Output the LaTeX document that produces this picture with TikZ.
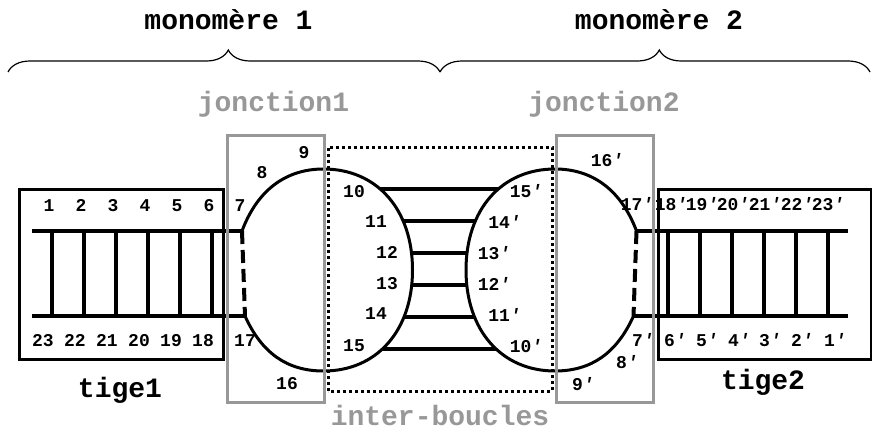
\documentclass[tikz,border=0pt]{standalone}
\usepackage{fontspec}
\setmainfont{Liberation Mono}
\usetikzlibrary{decorations.pathreplacing}
\definecolor{gris}{RGB}{152,152,152}
\newcommand{\primo}{{\itshape ′}}

\begin{document}
\begin{tikzpicture}[x=1pt, y=1pt,
    every node/.style={font=\fontsize{18}{18}\selectfont\bfseries, inner sep=0pt, text height=11pt, text depth=0pt},
    titre/.style={font=\fontsize{28}{28}\selectfont\bfseries, anchor=base},
    brin/.style={line width=4pt},
    cadre/.style={line width=3pt},
    jonction/.style={draw=gris, line width=3pt},
    boucle/.style={draw, fill=white, line width=3pt},
    accolade/.style={decorate, decoration={brace, amplitude=22pt, aspect=0.51}, line width=1.2pt}]

    \useasboundingbox (0,0) rectangle (872,432);

    % accolades des monomeres
    \coordinate (a0) at (8,360);
    \coordinate (a1) at (440,360);
    \coordinate (a2) at (870,360);
    \draw[accolade] (a0) -- (a1);
    \draw[accolade] (a1) -- (a2);
    \node[titre] (mono1) at (228.5,402) {monomère 1};
    \node[titre] (mono2) at (659,402) {monomère 2};

    % liaisons inter-boucles
    \draw[brin] (323.5,243) -- (555,243);
    \draw[brin] (323.5,211) -- (555,211);
    \draw[brin] (323.5,179) -- (555,179);
    \draw[brin] (323.5,147) -- (555,147);
    \draw[brin] (323.5,115) -- (555,115);
    \draw[brin] (323.5,83) -- (555,83);

    % boucle 1
    \coordinate (l7) at (242,201);
    \filldraw[boucle] (l7) .. controls (257,241) and (285,263) .. (323.5,263)
        .. controls (376.9,263) and (412.5,222.6) .. (412.5,162)
        .. controls (412.5,101.4) and (376.9,61) .. (323.5,61)
        .. controls (287,61) and (261.6,79.1) .. (245,116) coordinate (l17);

    % boucle 2
    \coordinate (r17) at (636.5,201);
    \filldraw[boucle] (r17) .. controls (621.5,241) and (593.5,263) .. (555,263)
        .. controls (501.6,263) and (466,222.6) .. (466,162)
        .. controls (466,101.4) and (501.6,61) .. (555,61)
        .. controls (591.5,61) and (616.9,79.1) .. (633.5,116) coordinate (r7);

    % tige 1
    \draw[cadre] (19,73) rectangle (223,243);
    \draw[brin] (32,201) -- (l7);
    \draw[brin] (32,116) -- (l17);
    \draw[brin] (52,201) -- (52,116) (84,201) -- (84,116) (116,201) -- (116,116)
        (148,201) -- (148,116) (180,201) -- (180,116) (212,201) -- (212,116);
    \draw[brin, dash pattern=on 13pt off 6pt] (l7) -- (l17);
    \node[titre] (tige1) at (120,35) {tige1};

    % tige 2
    \draw[cadre] (658,73) rectangle (871,243);
    \draw[brin] (r17) -- (848,201);
    \draw[brin] (r7) -- (848,116);
    \draw[brin] (668,201) -- (668,116) (700,201) -- (700,116) (732,201) -- (732,116)
        (764,201) -- (764,116) (796,201) -- (796,116) (828,201) -- (828,116);
    \draw[brin, dash pattern=on 13pt off 6pt] (r17) -- (r7);
    \node[titre] (tige2) at (763,43) {tige2};

    % jonctions et inter-boucles
    \draw[jonction] (227,30) rectangle (324,297);
    \draw[jonction] (556,30) rectangle (653,297);
    \draw[line width=3pt, dash pattern=on 3pt off 3pt] (328,41) rectangle (552,285);
    \node[titre, text=gris] (jonc1) at (273.5,320) {jonction1};
    \node[titre, text=gris] (jonc2) at (604,320) {jonction2};
    \node[titre, text=gris] (interb) at (440,7) {inter-boucles};

    % numeros monomere 1
    \node (n1) at (49,226) {1};
    \node (n2) at (81,226) {2};
    \node (n3) at (113,226) {3};
    \node (n4) at (145,226) {4};
    \node (n5) at (177,226) {5};
    \node (n6) at (209,226) {6};
    \node (n7) at (240,226) {7};
    \node (n8) at (262,259) {8};
    \node (n9) at (304,279) {9};
    \node (n10) at (354,240) {10};
    \node (n11) at (376,210) {11};
    \node (n12) at (387,179) {12};
    \node (n13) at (387,148) {13};
    \node (n14) at (376,118) {14};
    \node (n15) at (354,86) {15};
    \node (n16) at (287,48) {16};
    \node (n17) at (245,91) {17};
    \node (n18) at (203,91) {18};
    \node (n19) at (171,91) {19};
    \node (n20) at (139,91) {20};
    \node (n21) at (107,91) {21};
    \node (n22) at (75,91) {22};
    \node (n23) at (43,91) {23};

    % numeros monomere 2
    \node (m1) at (835,91) {1\primo};
    \node (m2) at (802,91) {2\primo};
    \node (m3) at (770,91) {3\primo};
    \node (m4) at (739,91) {4\primo};
    \node (m5) at (707,91) {5\primo};
    \node (m6) at (675,91) {6\primo};
    \node (m7) at (643,91) {7\primo};
    \node (m8) at (627,69) {8\primo};
    \node (m9) at (583,47) {9\primo};
    \node (m10) at (526,85) {10\primo};
    \node (m11) at (504.5,116) {11\primo};
    \node (m12) at (494,147) {12\primo};
    \node (m13) at (494,178) {13\primo};
    \node (m14) at (504.5,209) {14\primo};
    \node (m15) at (526,240) {15\primo};
    \node (m16) at (607,271) {16\primo};
    \node (m17) at (637,227) {17\primo};
    \node (m18) at (671,227) {18\primo};
    \node (m19) at (702,227) {19\primo};
    \node (m20) at (733,227) {20\primo};
    \node (m21) at (765,227) {21\primo};
    \node (m22) at (797,227) {22\primo};
    \node (m23) at (828,227) {23\primo};

\end{tikzpicture}
\end{document}
